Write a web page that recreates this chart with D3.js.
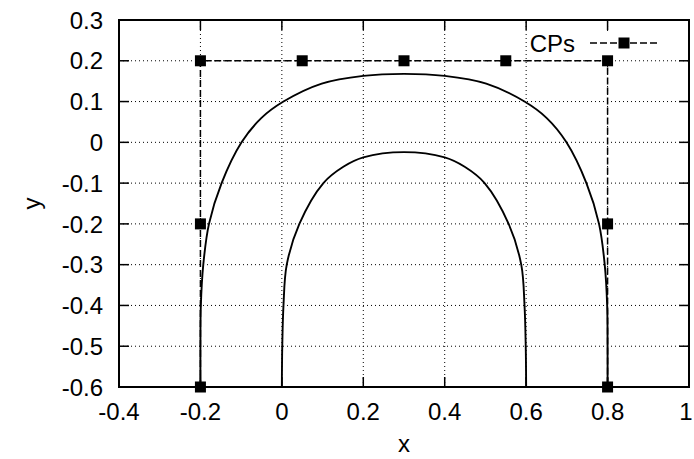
<!DOCTYPE html>
<html>
<head>
<meta charset="utf-8">
<script src="https://cdn.jsdelivr.net/npm/d3@7"></script>
<style>
  body { margin: 0; background: #fff; }
  text { font-family: "Liberation Sans", Arial, sans-serif; fill: #000; }
</style>
</head>
<body>
<div id="chart"></div>
<script>
// ticks
const xTicks = [-0.4, -0.2, 0, 0.2, 0.4, 0.6, 0.8, 1]
const yTicks = [-0.6, -0.5, -0.4, -0.3, -0.2, -0.1, 0, 0.1, 0.2, 0.3]

// control points
const cpX = [-0.2, -0.2, -0.2, 0.05, 0.3, 0.55, 0.8, 0.8, 0.8]
const cpY = [-0.6, -0.2, 0.2, 0.2, 0.2, 0.2, 0.2, -0.2, -0.6]

// outer curve
const outerX = [-0.2, -0.2, -0.199, -0.193, -0.179, -0.148, -0.099, -0.05, 0.004, 0.098, 0.2, 0.3,
  0.4, 0.502, 0.596, 0.65, 0.699, 0.748, 0.779, 0.793, 0.799, 0.8, 0.8]
const outerY = [-0.6, -0.5, -0.4, -0.3, -0.2, -0.1, 0.0, 0.06, 0.1, 0.144, 0.163, 0.168,
  0.163, 0.144, 0.1, 0.06, 0.0, -0.1, -0.2, -0.3, -0.4, -0.5, -0.6]

// inner curve
const innerX = [0, 0.001, 0.004, 0.012, 0.043, 0.102, 0.151, 0.2, 0.3, 0.4, 0.449, 0.498, 0.557, 0.588, 0.596, 0.599, 0.6]
const innerY = [-0.6, -0.5, -0.4, -0.3, -0.2, -0.1, -0.06, -0.037, -0.024, -0.037, -0.06, -0.1, -0.2, -0.3, -0.4, -0.5, -0.6]

const width = 694
const height = 459
const margin = {left: 119, top: 20, right: 5, bottom: 72}
const fontSize = 24

const svg = d3.select('#chart')
  .append('svg')
  .attr('width', width)
  .attr('height', height)

const x = d3.scaleLinear().domain([-0.4, 1]).range([margin.left, width - margin.right])
const y = d3.scaleLinear().domain([-0.6, 0.3]).range([height - margin.bottom, margin.top])

const x0 = x.range()[0], x1 = x.range()[1]
const y0 = y.range()[0], y1 = y.range()[1]

// grid
const grid = svg.append('g')
  .attr('stroke', '#000')
  .attr('stroke-width', 1)
  .attr('stroke-dasharray', '1,3')
grid.selectAll('.gx')
  .data(xTicks.slice(1, -1))
  .enter()
  .append('line')
  .attr('x1', d => x(d)).attr('x2', d => x(d))
  .attr('y1', y0).attr('y2', y1)
grid.selectAll('.gy')
  .data(yTicks.slice(1, -1))
  .enter()
  .append('line')
  .attr('x1', x0).attr('x2', x1)
  .attr('y1', d => y(d)).attr('y2', d => y(d))

// opaque key box
svg.append('rect')
  .attr('x', 529).attr('y', 31)
  .attr('width', 150).attr('height', 25)
  .attr('fill', '#fff')

// curves
const pts = (xs, ys) => xs.map((v, i) => [v, ys[i]])
const curveLine = d3.line()
  .x(d => x(d[0]))
  .y(d => y(d[1]))
  .curve(d3.curveCatmullRom.alpha(0.5))

svg.append('path')
  .attr('d', curveLine(pts(outerX, outerY)))
  .attr('fill', 'none').attr('stroke', '#000').attr('stroke-width', 1.9)
svg.append('path')
  .attr('d', curveLine(pts(innerX, innerY)))
  .attr('fill', 'none').attr('stroke', '#000').attr('stroke-width', 1.9)

// control polygon
const polyLine = d3.line().x(d => x(d[0])).y(d => y(d[1]))
svg.append('path')
  .attr('d', polyLine(pts(cpX, cpY)))
  .attr('fill', 'none').attr('stroke', '#000').attr('stroke-width', 1.5)
  .attr('stroke-dasharray', '7,3')

const sq = 11
svg.selectAll('.cp')
  .data(pts(cpX, cpY))
  .enter()
  .append('rect')
  .attr('x', d => x(d[0]) - sq / 2)
  .attr('y', d => y(d[1]) - sq / 2)
  .attr('width', sq).attr('height', sq)
  .attr('fill', '#000')

// frame
svg.append('rect')
  .attr('x', x0).attr('y', y1)
  .attr('width', x1 - x0).attr('height', y0 - y1)
  .attr('fill', 'none').attr('stroke', '#000').attr('stroke-width', 2)

// ticks (inward, mirrored)
const tl = 10
const ticks = svg.append('g').attr('stroke', '#000').attr('stroke-width', 1.5)
xTicks.forEach(t => {
  ticks.append('line').attr('x1', x(t)).attr('x2', x(t)).attr('y1', y0).attr('y2', y0 - tl)
  ticks.append('line').attr('x1', x(t)).attr('x2', x(t)).attr('y1', y1).attr('y2', y1 + tl)
})
yTicks.forEach(t => {
  ticks.append('line').attr('x1', x0).attr('x2', x0 + tl).attr('y1', y(t)).attr('y2', y(t))
  ticks.append('line').attr('x1', x1).attr('x2', x1 - tl).attr('y1', y(t)).attr('y2', y(t))
})

const fmt = d => (Math.abs(d) < 1e-9 ? '0' : String(+d.toFixed(1)))

svg.selectAll('.xl')
  .data(xTicks)
  .enter()
  .append('text')
  .attr('x', d => Math.min(x(d), width - 8))
  .attr('y', y0 + 33)
  .attr('text-anchor', 'middle')
  .style('font-size', fontSize + 'px')
  .text(fmt)

svg.selectAll('.yl')
  .data(yTicks)
  .enter()
  .append('text')
  .attr('x', x0 - 16)
  .attr('y', d => y(d))
  .attr('dy', '0.36em')
  .attr('text-anchor', 'end')
  .style('font-size', fontSize + 'px')
  .text(fmt)

// axis titles
svg.append('text')
  .attr('x', (x0 + x1) / 2)
  .attr('y', 452)
  .attr('text-anchor', 'middle')
  .style('font-size', fontSize + 'px')
  .text('x')
svg.append('text')
  .attr('transform', `translate(40, ${(y0 + y1) / 2}) rotate(-90)`)
  .attr('text-anchor', 'middle')
  .style('font-size', fontSize + 'px')
  .text('y')

// key
const keyY = 43
svg.append('text')
  .attr('x', 575)
  .attr('y', keyY)
  .attr('dy', '0.36em')
  .attr('text-anchor', 'end')
  .style('font-size', fontSize + 'px')
  .text('CPs')
svg.append('line')
  .attr('x1', 590).attr('x2', 660)
  .attr('y1', keyY).attr('y2', keyY)
  .attr('stroke', '#000').attr('stroke-width', 1.5)
  .attr('stroke-dasharray', '7,3')
svg.append('rect')
  .attr('x', 624 - sq / 2).attr('y', keyY - sq / 2)
  .attr('width', sq).attr('height', sq)
  .attr('fill', '#000')
</script>
</body>
</html>
